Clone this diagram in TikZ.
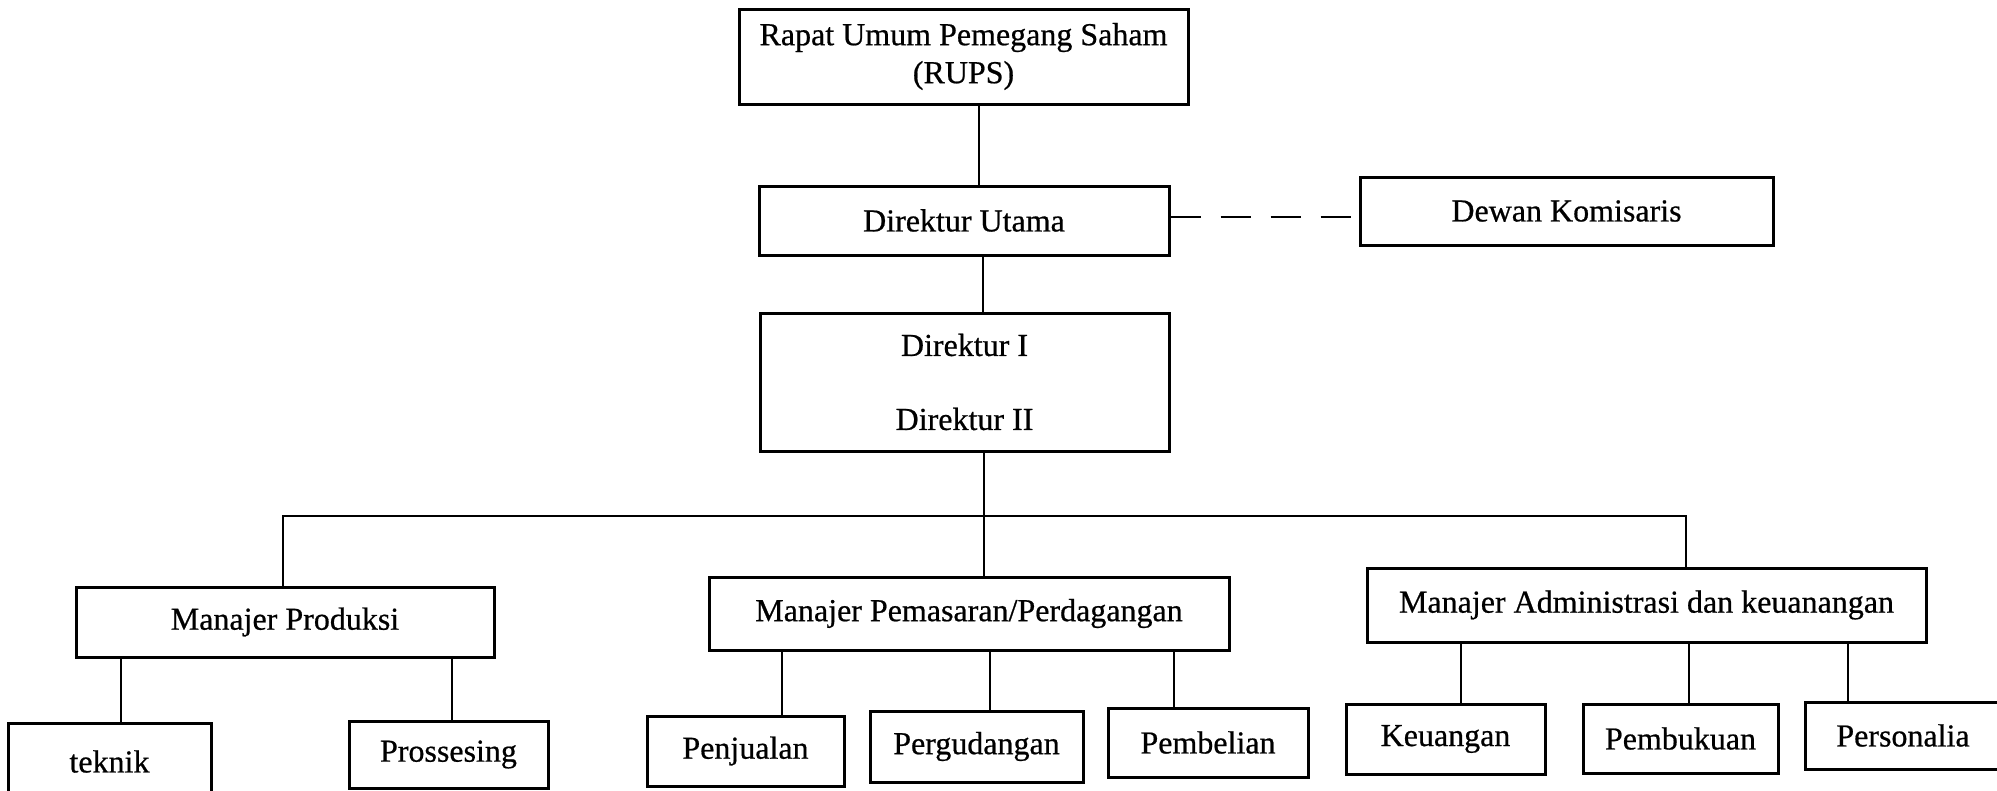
\documentclass[tikz,border=0pt]{standalone}
\usepackage{fontspec}
\setmainfont{Liberation Serif}[FakeBold=0.6]
\begin{document}
\begin{tikzpicture}[x=1pt,y=-1pt,
  box/.style={draw, line width=3pt, inner sep=0pt, align=center,
    font=\fontsize{32}{38}\selectfont},
  link/.style={line width=2.8pt},
  dashlink/.style={line width=2.8pt, dash pattern=on 30pt off 20pt}]
\useasboundingbox (0,0) rectangle (1997,790);
% top chain
\node[box, minimum width=449pt, minimum height=95pt] (rups) at (963.5,56.5) {Rapat Umum Pemegang Saham\\(RUPS)};
\node[box, minimum width=410pt, minimum height=69pt] (du) at (964,220.5) {Direktur Utama};
\node[box, minimum width=409pt, minimum height=138pt] (dir) at (964.5,382) {Direktur I\\[36pt]Direktur II};
\node[box, minimum width=413pt, minimum height=68pt] (dewan) at (1566.5,211) {Dewan Komisaris};
% managers
\node[box, minimum width=418pt, minimum height=70pt] (mp) at (285,622) {Manajer Produksi};
\node[box, minimum width=520pt, minimum height=73pt] (pm) at (969,613.5) {Manajer Pemasaran/Perdagangan};
\node[box, minimum width=559pt, minimum height=74pt] (ad) at (1646.5,605) {Manajer Administrasi dan keuanangan};
% units
\node[box, minimum width=203pt, minimum height=77pt] (tk) at (109.5,761.5) {teknik};
\node[box, minimum width=199pt, minimum height=67pt] (pr) at (448.5,754.5) {Prossesing};
\node[box, minimum width=197pt, minimum height=70pt] (pj) at (745.5,751) {Penjualan};
\node[box, minimum width=213pt, minimum height=71pt] (pg) at (976.5,746.5) {Pergudangan};
\node[box, minimum width=200pt, minimum height=69pt] (pb) at (1208,742.5) {Pembelian};
\node[box, minimum width=199pt, minimum height=70pt] (ku) at (1445.5,739) {Keuangan};
\node[box, minimum width=195pt, minimum height=69pt] (pk) at (1680.5,738.5) {Pembukuan};
\node[box, minimum width=196pt, minimum height=67pt] (ps) at (1903,735.5) {Personalia};
% helper coordinates
\coordinate (vtop) at (979,0);
\coordinate (vmid) at (983,0);
\coordinate (vbus) at (984,0);
\coordinate (bL) at (283,516);
\coordinate (bR) at (1686,516);
\coordinate (dsh) at (0,217);
\coordinate (c1) at (121,0);
\coordinate (c2) at (452,0);
\coordinate (c3) at (782,0);
\coordinate (c4) at (990,0);
\coordinate (c5) at (1174,0);
\coordinate (c6) at (1461,0);
\coordinate (c7) at (1689,0);
\coordinate (c8) at (1848,0);
% connectors
\draw[link] (rups.south -| vtop) -- (du.north -| vtop);
\draw[link] (du.south -| vmid) -- (dir.north -| vmid);
\draw[dashlink] (du.east |- dsh) -- (dewan.west |- dsh);
\draw[link] (dir.south -| vbus) -- (pm.north -| vbus);
\draw[link] (mp.north -| bL) |- (bR) -- (ad.north -| bR);
\draw[link] (mp.south -| c1) -- (tk.north -| c1);
\draw[link] (mp.south -| c2) -- (pr.north -| c2);
\draw[link] (pm.south -| c3) -- (pj.north -| c3);
\draw[link] (pm.south -| c4) -- (pg.north -| c4);
\draw[link] (pm.south -| c5) -- (pb.north -| c5);
\draw[link] (ad.south -| c6) -- (ku.north -| c6);
\draw[link] (ad.south -| c7) -- (pk.north -| c7);
\draw[link] (ad.south -| c8) -- (ps.north -| c8);
\end{tikzpicture}
\end{document}
